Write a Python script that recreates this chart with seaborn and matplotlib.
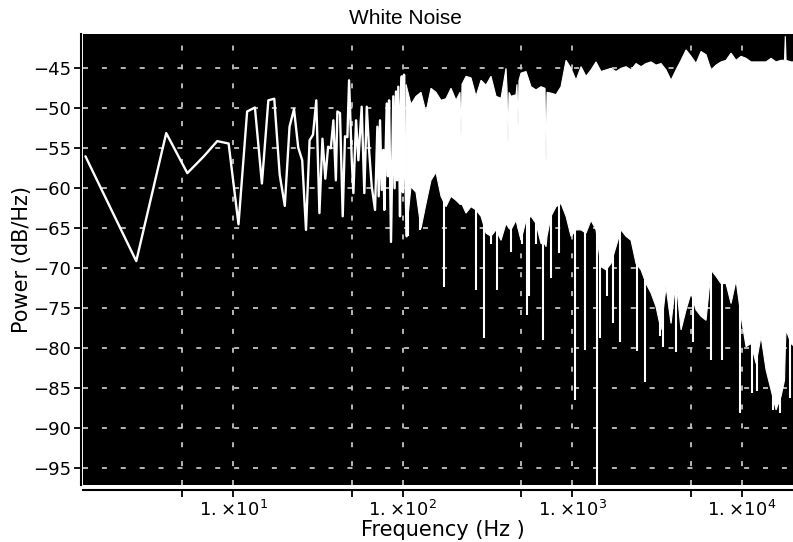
import numpy as np
import matplotlib
matplotlib.use("Agg")
import matplotlib.pyplot as plt
from matplotlib.ticker import NullLocator
import seaborn as sns

# ---- low-frequency part: individual spectrum vertices (Hz, dB/Hz) ----
line_freq = [1.35, 2.69, 4.04, 5.38, 6.73, 8.07, 9.42, 10.77, 12.11, 13.46,
             14.80, 16.15, 17.50, 18.84, 20.19, 21.53, 22.88, 24.22, 25.57, 26.92,
             28.26, 29.61, 30.95, 32.30, 33.65, 34.99, 36.34, 37.68, 39.03, 40.37,
             41.2, 42.7, 44.3, 45.7, 47.2, 48.3, 50.1, 51.2, 53.1, 54.8,
             57.3, 59.4, 61.4, 63.5, 65.7, 68.7, 70.9, 72.2, 73.5, 75.2,
             76.9, 77.9, 80.5, 81.8, 83.1, 85.3, 88.0, 89.6, 91.3, 92.7,
             94.2, 96.4, 97.5, 98.7, 100.2, 101.8, 103.5, 105.6]
line_power = [-56.0, -69.1, -53.1, -58.1, -56.0, -54.1, -54.4, -64.5, -50.4, -49.9,
              -59.4, -49.0, -48.8, -58.3, -62.2, -52.3, -50.1, -54.9, -56.5, -65.2,
              -54.0, -53.3, -49.0, -63.1, -53.8, -58.8, -54.8, -55.0, -51.5, -59.0,
              -50.4, -50.6, -63.5, -53.5, -53.6, -46.5, -56.5, -60.6, -51.5, -56.5,
              -49.8, -60.6, -49.8, -55.5, -59.8, -62.7, -52.3, -61.0, -51.5, -60.2,
              -55.2, -62.7, -49.4, -58.5, -49.0, -66.7, -48.5, -60.0, -47.9, -59.0,
              -47.3, -63.5, -50.0, -46.0, -60.5, -45.8, -58.0, -66.0]

# ---- dense part: upper edge and body lower edge of the trace ----
band_freq = [104.6, 111.9, 119.8, 128.2, 137.2, 146.8, 157.1, 168.2, 180.0, 192.6,
             206.1, 217.6, 220.6, 223.6, 236.1, 252.7, 270.4, 289.4, 309.7, 331.4,
             354.7, 379.6, 406.3, 411.8, 417.4, 423.1, 434.8, 465.3, 471.6, 478.1,
             484.6, 498.0, 533.0, 570.4, 610.4, 653.3, 689.6, 699.2, 708.6, 748.2,
             800.8, 857.0, 917.2, 981.5, 1050.4, 1124.2, 1203.1, 1287.6, 1378.0, 1474.7,
             1578.3, 1689.0, 1807.6, 1934.6, 2070.4, 2215.8, 2371.4, 2537.8, 2716.0, 2906.8,
             3110.8, 3329.2, 3562.9, 3813.1, 4080.8, 4367.3, 4674.0, 5002.1, 5353.3, 5729.2,
             6131.5, 6562.0, 7022.7, 7515.8, 8043.5, 8608.2, 9212.6, 9859.4, 10551.7, 11292.6,
             12085.5, 12934.0, 13842.2, 14814.1, 15854.2, 16967.3, 17782.0, 17976.0, 18158.6, 19433.5,
             20797.0]
band_top = [-47.0, -49.5, -48.5, -48.0, -50.5, -47.5, -48.0, -49.0, -48.8, -47.5,
            -49.0, -48.0, -53.5, -47.0, -46.0, -46.2, -48.5, -46.5, -47.1, -46.0,
            -48.5, -48.75, -45.0, -47.5, -54.4, -48.0, -48.5, -48.3, -47.0, -52.3,
            -46.5, -45.6, -45.4, -47.3, -47.7, -47.3, -47.5, -56.9, -48.0, -48.1,
            -48.3, -47.3, -44.0, -45.0, -46.5, -44.8, -46.0, -45.2, -44.2, -45.4,
            -45.2, -45.0, -45.4, -45.0, -44.8, -45.2, -44.4, -44.8, -44.4, -44.2,
            -44.6, -44.4, -45.2, -46.5, -45.2, -44.0, -42.7, -43.5, -44.4, -42.9,
            -43.3, -45.2, -44.6, -44.2, -44.0, -43.1, -44.0, -43.5, -43.75, -44.2,
            -44.2, -44.2, -44.2, -43.75, -44.2, -44.0, -44.0, -41.0, -44.0, -44.2,
            -44.2]
band_bottom = [-66.0, -59.8, -60.5, -65.0, -61.9, -59.0, -58.0, -61.0, -62.3, -61.0,
               -61.5, -62.0, -62.0, -62.0, -63.1, -62.3, -62.7, -63.5, -65.6, -66.0,
               -65.2, -66.5, -64.4, -64.6, -64.8, -65.0, -65.2, -64.0, -64.5, -65.0,
               -65.5, -66.5, -64.0, -63.5, -64.4, -66.9, -67.0, -67.3, -66.0, -63.5,
               -62.3, -61.9, -63.5, -66.0, -65.2, -65.2, -65.6, -64.0, -65.2, -69.8,
               -70.2, -69.4, -67.3, -65.2, -66.0, -66.5, -69.4, -70.2, -71.9, -73.1,
               -74.8, -77.7, -72.3, -76.9, -71.5, -77.7, -75.2, -73.1, -75.2, -76.0,
               -76.5, -70.2, -71.0, -71.9, -71.9, -74.4, -71.5, -76.0, -79.8, -79.4,
               -81.9, -78.5, -82.7, -85.2, -87.7, -86.0, -84.0, -80.0, -77.7, -79.4,
               -80.0]

# ---- isolated deep dips below the band ----
spike_freq = [108.0, 127.0, 175.1, 270.3, 301.4, 331.4, 359.5, 434.8, 502.5, 540.2,
              555.1, 607.7, 671.1, 748.0, 833.8, 1035.9, 1186.8, 1390.6, 1454.1, 1599.5,
              1734.5, 1907.8, 2403.5, 2677.0, 3281.9, 3419.6, 4078.7, 5136.7, 6530.6, 7581.3,
              9718.0, 11394.0, 12240.5, 15212.7, 16723.4, 19157.0]
spike_low = [-66.0, -65.2, -72.3, -72.7, -78.75, -67.0, -72.7, -67.9, -67.0, -75.8,
             -73.5, -67.0, -79.0, -71.25, -68.1, -86.5, -80.2, -98.0, -78.75, -73.5,
             -76.9, -79.2, -80.4, -84.2, -78.5, -79.8, -80.5, -79.2, -81.5, -81.5,
             -88.1, -85.6, -85.4, -87.7, -88.1, -86.2]

y_ticks = [-45, -50, -55, -60, -65, -70, -75, -80, -85, -90, -95]
x_ticks = [5, 10, 50, 100, 500, 1000, 5000, 10000]
x_tick_labels = ["", r"$1.\!\times\!10^{1}$", "", r"$1.\!\times\!10^{2}$",
                 "", r"$1.\!\times\!10^{3}$", "", r"$1.\!\times\!10^{4}$"]

sns.set_style("ticks")
plt.rcParams["font.family"] = ["DejaVu Sans"]
plt.rcParams["lines.scale_dashes"] = False
plt.rcParams["mathtext.fontset"] = "dejavusans"
plt.rcParams["text.color"] = "black"
plt.rcParams["axes.labelcolor"] = "black"

W, H = 793, 542
fig = plt.figure(figsize=(W / 100, H / 100), dpi=100)
ax = fig.add_axes([83 / W, 57 / H, 710 / W, 451 / H])
ax.set_facecolor("black")
ax.set_xscale("log")

ax.set_axisbelow(True)
ax.grid(True, which="major", color="#c4c4c4", linestyle=(0, (3.6, 10.0)), linewidth=1.3)

# dense band as an explicit closed polygon (upper edge forward, lower edge back)
bf = np.asarray(band_freq, dtype=float)
poly_x = np.concatenate([bf, bf[::-1]])
poly_y = np.concatenate([np.asarray(band_top, float), np.asarray(band_bottom, float)[::-1]])
ax.fill(poly_x, poly_y, facecolor="white", edgecolor="white", linewidth=0.8, zorder=3)

spike_top = np.interp(np.log(spike_freq), np.log(bf), band_bottom) + 1.0
ax.vlines(spike_freq, spike_low, spike_top, color="white", linewidth=1.5, zorder=3)

sns.lineplot(x=line_freq, y=line_power, ax=ax, color="white", linewidth=1.7,
             sort=False, estimator=None, zorder=4)

ax.set_xlim(1.306, 19950)
ax.set_ylim(-97.09, -40.71)
ax.set_xticks(x_ticks)
ax.set_xticklabels(x_tick_labels)
ax.xaxis.set_minor_locator(NullLocator())
ax.set_yticks(y_ticks)
ax.set_yticklabels([f"\u2212{abs(v)}" for v in y_ticks])
ax.tick_params(axis="both", direction="out", length=5, width=1.3, color="black",
               labelsize=13, labelcolor="black", pad=2)

for s in ["top", "right"]:
    ax.spines[s].set_visible(False)
ax.spines["left"].set_position(("outward", 1.5))
ax.spines["bottom"].set_position(("outward", 3.6))
for s in ["left", "bottom"]:
    ax.spines[s].set_linewidth(1.5)
    ax.spines[s].set_color("black")

ax.set_xlabel("Frequency (Hz )", fontsize=15, color="black")
ax.set_ylabel("Power (dB/Hz)", fontsize=15, color="black")
ax.xaxis.set_label_coords((443 - 83) / 710, (485 - 530) / 451)
ax.xaxis.label.set_va("center")
ax.yaxis.set_label_coords((22 - 83) / 710, 0.5)
ax.yaxis.label.set_va("center")
ax.yaxis.label.set_ha("center")

fig.text(405 / W, 1 - 18 / H, "White Noise", ha="center", va="center",
         fontsize=15, color="black", family=["Liberation Sans", "DejaVu Sans"])

fig.savefig("out.png", dpi=100)
